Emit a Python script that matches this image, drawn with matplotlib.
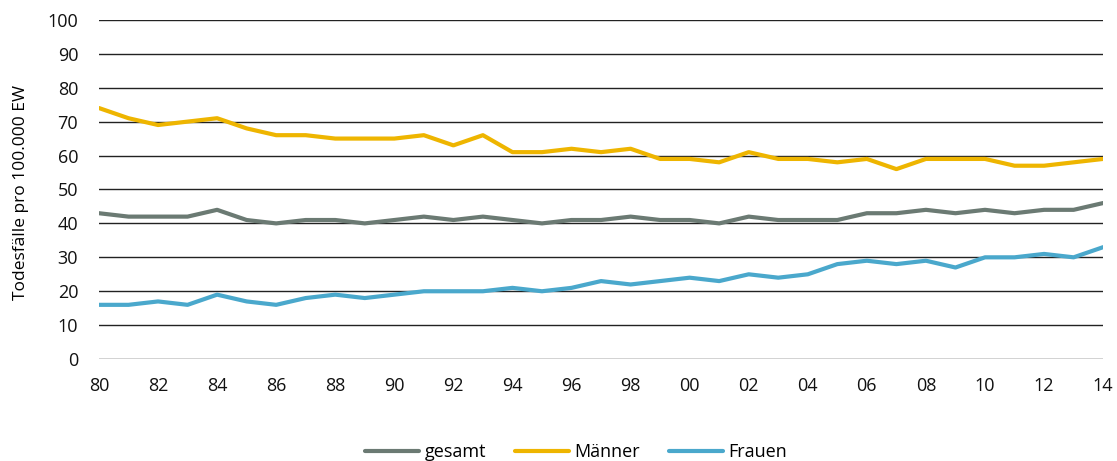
import matplotlib
matplotlib.use("Agg")
import matplotlib.pyplot as plt

plt.rcParams['font.family'] = ['Open Sans', 'DejaVu Sans']

# Jahre 1980 bis 2014
jahre = list(range(1980, 2015))
jahr_labels = [f"{j % 100:02d}" for j in jahre]

gesamt = [43, 42, 42, 42, 44, 41, 40, 41, 41, 40, 41, 42, 41, 42, 41, 40, 41, 41,
          42, 41, 41, 40, 42, 41, 41, 41, 43, 43, 44, 43, 44, 43, 44, 44, 46]
maenner = [74, 71, 69, 70, 71, 68, 66, 66, 65, 65, 65, 66, 63, 66, 61, 61, 62, 61,
           62, 59, 59, 58, 61, 59, 59, 58, 59, 56, 59, 59, 59, 57, 57, 58, 59]
frauen = [16, 16, 17, 16, 19, 17, 16, 18, 19, 18, 19, 20, 20, 20, 21, 20, 21, 23,
          22, 23, 24, 23, 25, 24, 25, 28, 29, 28, 29, 27, 30, 30, 31, 30, 33]

fig = plt.figure(figsize=(11.17, 4.61), dpi=100)
ax = fig.add_axes([0.0886, 0.221, 0.899, 0.736])

ax.plot(jahre, gesamt, color='#6b7a73', lw=3, label='gesamt', solid_capstyle='round')
ax.plot(jahre, maenner, color='#eeb500', lw=3, label='Männer', solid_capstyle='round')
ax.plot(jahre, frauen, color='#4aa8cc', lw=3, label='Frauen', solid_capstyle='round')

ax.set_xlim(1980, 2014)
ax.set_ylim(0, 100)
ax.set_yticks(range(0, 101, 10))
ax.set_xticks(jahre[::2])
ax.set_xticklabels(jahr_labels[::2])
ax.grid(axis='y', color='#222222', lw=1)
ax.set_axisbelow(True)
for s in ax.spines.values():
    s.set_visible(False)
ax.tick_params(length=0, labelsize=13, colors='#111111')
ax.tick_params(axis='y', pad=15)
ax.tick_params(axis='x', pad=13)
ax.set_ylabel('Todesfälle pro 100.000 EW', fontsize=12.5)
ax.yaxis.set_label_coords(-0.07, 0.49)

ax.legend(loc='upper center', bbox_to_anchor=(0.475, -0.2), ncol=3, frameon=False,
          fontsize=13, handlelength=3.0, handletextpad=0.3, columnspacing=1.6)

fig.savefig('out.png', dpi=100)
